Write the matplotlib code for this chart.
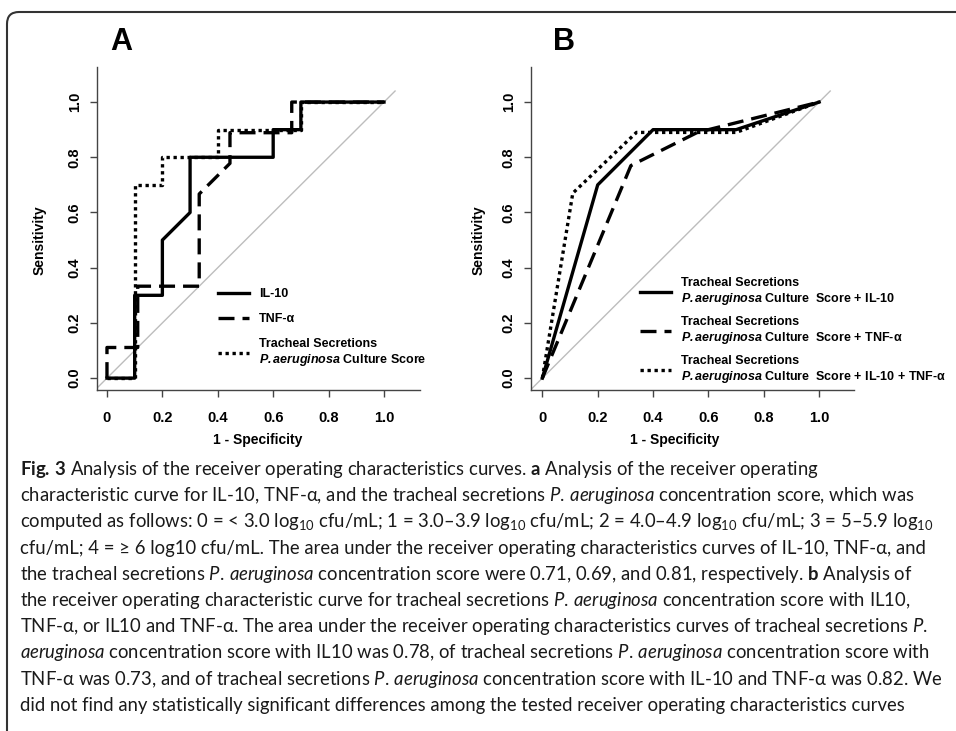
import matplotlib.pyplot as plt
from matplotlib.lines import Line2D
from matplotlib.patches import FancyBboxPatch

# ---- data ----
# panel A: single marker ROC curves (1 - specificity, sensitivity)
a_fpr_il10 = [0, 0.1, 0.1, 0.2, 0.2, 0.3, 0.3, 0.6, 0.6, 0.7, 0.7, 1.0]
a_tpr_il10 = [0, 0, 0.3, 0.3, 0.5, 0.6, 0.8, 0.8, 0.9, 0.9, 1.0, 1.0]
a_fpr_tnf = [0, 0, 0.111, 0.111, 0.333, 0.333, 0.444, 0.444, 0.667, 0.667, 1.0]
a_tpr_tnf = [0, 0.111, 0.111, 0.333, 0.333, 0.667, 0.778, 0.889, 0.889, 1.0, 1.0]
a_fpr_score = [0, 0.1, 0.1, 0.2, 0.2, 0.4, 0.4, 0.7, 0.7, 1.0]
a_tpr_score = [0, 0, 0.7, 0.7, 0.8, 0.8, 0.9, 0.9, 1.0, 1.0]

# panel B: combined models
b_fpr_il10 = [0, 0.2, 0.4, 0.7, 1.0]
b_tpr_il10 = [0, 0.7, 0.9, 0.9, 1.0]
b_fpr_tnf = [0, 0.32, 0.56, 1.0]
b_tpr_tnf = [0, 0.77, 0.89, 1.0]
b_fpr_all = [0, 0.11, 0.34, 0.7, 1.0]
b_tpr_all = [0, 0.67, 0.89, 0.89, 1.0]

diag = [-0.04, 1.04]
tick_vals = [0, 0.2, 0.4, 0.6, 0.8, 1.0]
x_tick_labels = ["0", "0.2", "0.4", "0.6", "0.8", "1.0"]
y_tick_labels = ["0.0", "0.2", "0.4", "0.6", "0.8", "1.0"]

legend_a = ["IL-10", "TNF-α",
            "Tracheal Secretions\n$\\mathbfit{P.aeruginosa}$ Culture Score"]
legend_b = ["Tracheal Secretions\n$\\mathbfit{P.aeruginosa}$ Culture  Score + IL-10",
            "Tracheal Secretions\n$\\mathbfit{P.aeruginosa}$ Culture  Score + TNF-α",
            "Tracheal Secretions\n$\\mathbfit{P.aeruginosa}$ Culture  Score + IL-10 + TNF-α"]

PA = r"$\mathit{P.\,aeruginosa}$"
caption_lines = [
    r"$\mathbf{Fig.\,3}$ Analysis of the receiver operating characteristics curves. $\mathbf{a}$ Analysis of the receiver operating",
    "characteristic curve for IL-10, TNF-α, and the tracheal secretions " + PA + " concentration score, which was",
    r"computed as follows: 0 = < 3.0 log$_{10}$ cfu/mL; 1 = 3.0–3.9 log$_{10}$ cfu/mL; 2 = 4.0–4.9 log$_{10}$ cfu/mL; 3 = 5–5.9 log$_{10}$",
    "cfu/mL; 4 = ≥ 6 log10 cfu/mL. The area under the receiver operating characteristics curves of IL-10, TNF-α, and",
    "the tracheal secretions " + PA + r" concentration score were 0.71, 0.69, and 0.81, respectively. $\mathbf{b}$ Analysis of",
    "the receiver operating characteristic curve for tracheal secretions " + PA + " concentration score with IL10,",
    r"TNF-α, or IL10 and TNF-α. The area under the receiver operating characteristics curves of tracheal secretions $\mathit{P.}$",
    r"$\mathit{aeruginosa}$ concentration score with IL10 was 0.78, of tracheal secretions " + PA + " concentration score with",
    "TNF-α was 0.73, and of tracheal secretions " + PA + " concentration score with IL-10 and TNF-α was 0.82. We",
    "did not find any statistically significant differences among the tested receiver operating characteristics curves",
]

# ---- fonts ----
plt.rcParams['font.family'] = ['Liberation Sans', 'DejaVu Sans']
plt.rcParams['mathtext.fontset'] = 'custom'
plt.rcParams['mathtext.rm'] = 'Lato'
plt.rcParams['mathtext.it'] = 'Lato:italic'
plt.rcParams['mathtext.bf'] = 'Lato:bold'
plt.rcParams['mathtext.bfit'] = 'Liberation Sans:italic:bold'

W, H = 956, 731
fig = plt.figure(figsize=(W / 100, H / 100), dpi=100)

solid = '-'
dashed = (0, (4.8, 2.4))
dotted = (0, (1.0, 1.1))
lw = 2.4


def add_panel(left, right, xlim):
    # axes box given in pixels (top 67, bottom 390)
    ax = fig.add_axes([left / W, 1 - 390 / H, (right - left) / W, 323 / H])
    ax.set_xlim(xlim)
    ax.set_ylim(-0.043, 1.127)
    ax.patch.set_alpha(0)
    for s in ['top', 'right']:
        ax.spines[s].set_visible(False)
    for s in ['left', 'bottom']:
        ax.spines[s].set_color('#444444')
        ax.spines[s].set_linewidth(1.0)
    ax.set_xticks(tick_vals)
    ax.set_xticklabels(x_tick_labels, fontweight='bold', fontsize=10.5)
    ax.set_yticks(tick_vals)
    ax.set_yticklabels(y_tick_labels, rotation=90, va='center',
                       fontweight='bold', fontsize=10.5)
    ax.tick_params(direction='out', length=5, width=1, color='#444444')
    ax.tick_params(axis='x', pad=10)
    ax.tick_params(axis='y', pad=6)
    ax.set_xlabel('1 - Specificity', fontweight='bold', fontsize=10)
    ax.set_ylabel('Sensitivity', fontweight='bold', fontsize=10)
    ax.plot(diag, diag, color='#bdbdbd', lw=1.0, zorder=1)
    return ax


# Panel A
axA = add_panel(97, 420, (-0.036, 1.13))
axA.plot(a_fpr_il10, a_tpr_il10, color='black', lw=lw, ls=solid)
axA.plot(a_fpr_tnf, a_tpr_tnf, color='black', lw=lw, ls=dashed)
axA.plot(a_fpr_score, a_tpr_score, color='black', lw=lw, ls=dotted)
axA.xaxis.set_label_coords(0.498, -0.133)
axA.yaxis.set_label_coords(-0.155, 0.464)

# Panel B
axB = add_panel(531, 854, (-0.041, 1.126))
axB.plot(b_fpr_il10, b_tpr_il10, color='black', lw=lw, ls=solid)
axB.plot(b_fpr_tnf, b_tpr_tnf, color='black', lw=lw, ls=dashed)
axB.plot(b_fpr_all, b_tpr_all, color='black', lw=lw, ls=dotted)
axB.xaxis.set_label_coords(0.446, -0.133)
axB.yaxis.set_label_coords(-0.142, 0.464)

# Legends
def handles():
    return [Line2D([], [], color='black', lw=lw, ls=solid),
            Line2D([], [], color='black', lw=lw, ls=dashed),
            Line2D([], [], color='black', lw=lw, ls=dotted)]

leg_kw = dict(loc='upper left', bbox_transform=fig.transFigure, frameon=False,
              borderpad=0, borderaxespad=0, handlelength=2.5,
              handletextpad=0.8, prop=dict(weight='bold', size=9))
axA.legend(handles(), legend_a, bbox_to_anchor=(218 / W, 1 - 288 / H),
           labelspacing=1.05, **leg_kw)
axB.legend(handles(), legend_b, bbox_to_anchor=(640 / W, 1 - 277 / H),
           labelspacing=0.7, **leg_kw)

# Panel letters
fig.text(121 / W, 1 - 42 / H, 'A', fontsize=22, fontweight='bold',
         ha='center', va='center')
fig.text(564 / W, 1 - 42 / H, 'B', fontsize=22, fontweight='bold',
         ha='center', va='center')

# Caption
for i, line in enumerate(caption_lines):
    fig.text(20 / W, 1 - (475 + 26.2 * i) / H, line, fontsize=13.35,
             family=['Lato', 'DejaVu Sans'], color='#1a1a1a',
             ha='left', va='baseline')

# Rounded frame, open to the right and bottom
frame = FancyBboxPatch((0.07, -0.5), 12, 7.19 + 0.5,
                       boxstyle='round,pad=0,rounding_size=0.12',
                       transform=fig.dpi_scale_trans, fill=False,
                       lw=1.5, ec='#333333')
fig.add_artist(frame)

fig.savefig('out.png', dpi=100)
